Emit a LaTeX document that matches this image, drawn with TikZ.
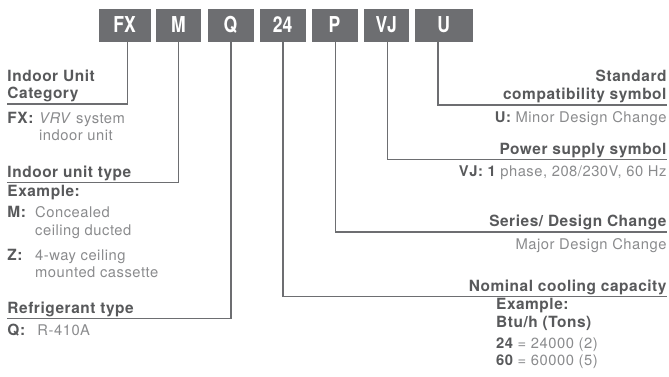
\documentclass[tikz,border=0pt]{standalone}
\usepackage{fontspec}
\setmainfont{TeX Gyre Heros}[LetterSpace=3.5]
\newfontfamily\boxfont{TeX Gyre Heros}
\definecolor{boxgray}{HTML}{6D6E71}
\definecolor{headc}{HTML}{58595B}
\definecolor{bodyc}{HTML}{8A8B8D}
\begin{document}
\begin{tikzpicture}[x=1bp,y=-1bp,
  codebox/.style={fill=boxgray, minimum height=33bp, inner sep=0pt, text=white,
    font=\boxfont\fontsize{22}{22}\selectfont\bfseries},
  head/.style={anchor=base west, inner sep=0pt, text=headc, font=\fontsize{15.5}{18}\selectfont\bfseries},
  headr/.style={head, anchor=base east},
  body/.style={anchor=base west, inner sep=0pt, text=bodyc, font=\fontsize{14.8}{17}\selectfont},
  bodyr/.style={body, anchor=base east},
  conn/.style={draw=boxgray, line width=1.2bp}]
\useasboundingbox (0,0) rectangle (669,376);

% code boxes
\node[codebox, minimum width=52bp]   (fx) at (124.5,25)  {\scalebox{0.8}[1]{FX}};
\node[codebox, minimum width=45bp]   (m)  at (178.5,25)  {\scalebox{0.8}[1]{M}};
\node[codebox, minimum width=46bp]   (q)  at (230.5,25)  {\scalebox{0.8}[1]{Q}};
\node[codebox, minimum width=46bp]   (n24) at (282.5,25) {\scalebox{0.8}[1]{24}};
\node[codebox, minimum width=46bp]   (p)  at (334.5,25)  {\scalebox{0.8}[1]{P}};
\node[codebox, minimum width=45.5bp] (vj) at (386.25,25) {\scalebox{0.8}[1]{VJ}};
\node[codebox, minimum width=57.5bp] (u)  at (443.75,25) {\scalebox{0.8}[1]{U}};

% connector corners and ends
\coordinate (fxk) at (127.5,104);   \coordinate (fxe) at (7,104);
\coordinate (mk)  at (178.5,182.5); \coordinate (me)  at (7,182.5);
\coordinate (qk)  at (231,318.5);   \coordinate (qe)  at (7,318.5);
\coordinate (uk)  at (438,105);     \coordinate (ue)  at (666.7,105);
\coordinate (vjk) at (387.5,159.5); \coordinate (vje) at (666.7,159.5);
\coordinate (pk)  at (335.5,232);   \coordinate (pe)  at (666.7,232);
\coordinate (nk)  at (283,296.5);   \coordinate (ne)  at (666.7,296.5);

\draw[conn] (fx.south -| fxk) -- (fxk) -- (fxe);
\draw[conn] (m.south -| mk) -- (mk) -- (me);
\draw[conn] (q.south -| qk) -- (qk) -- (qe);
\draw[conn] (u.south -| uk) -- (uk) -- (ue);
\draw[conn] (vj.south -| vjk) -- (vjk) -- (vje);
\draw[conn] (p.south -| pk) -- (pk) -- (pe);
\draw[conn] (n24.south -| nk) -- (nk) -- (ne);

% left column
\node[head] (t1a) at (7.3,81) {Indoor Unit};
\node[head] (t1b) at (7.3,98.5) {Category};
\node[head] (t1c) at (7.3,123) {FX:};
\node[body] (t1d) at (39,123) {\textit{VRV} system};
\node[body] (t1e) at (39,140.5) {indoor unit};

\node[head] (t2a) at (7.3,177) {Indoor unit type};
\node[head] (t2b) at (7.3,196.5) {Example:};
\node[head] (t2c) at (7.3,217) {M:};
\node[body] (t2d) at (35,217) {Concealed};
\node[body] (t2e) at (35,235) {ceiling ducted};
\node[head] (t2f) at (7.3,260) {Z:};
\node[body] (t2g) at (35,260) {4-way ceiling};
\node[body] (t2h) at (35,277.5) {mounted cassette};

\node[head] (t3a) at (7.3,313) {Refrigerant type};
\node[head] (t3b) at (7.3,335) {Q:};
\node[body] (t3c) at (37.3,335) {R-410A};

% right column
\node[headr] (r1a) at (666.7,81.5) {Standard};
\node[headr] (r1b) at (666.7,99.5) {compatibility symbol};
\node[bodyr] (r1c) at (666.7,122.7) {{\color{headc}\bfseries U:} Minor Design Change};

\node[headr] (r2a) at (666.7,154.5) {Power supply symbol};
\node[bodyr] (r2b) at (666.7,176.7) {{\color{headc}\bfseries VJ: 1} phase, 208/230V, 60 Hz};

\node[headr] (r3a) at (666.7,226.5) {Series/ Design Change};
\node[bodyr] (r3b) at (666.7,249) {Major Design Change};

\node[headr] (r4a) at (666.7,291) {Nominal cooling capacity};
\node[head]  (r4b) at (496,309) {Example:};
\node[head]  (r4c) at (496,327) {Btu/h (Tons)};
\node[body]  (r4d) at (496,348) {{\color{headc}\bfseries 24} = 24000 (2)};
\node[body]  (r4e) at (496,365) {{\color{headc}\bfseries 60} = 60000 (5)};
\end{tikzpicture}
\end{document}
